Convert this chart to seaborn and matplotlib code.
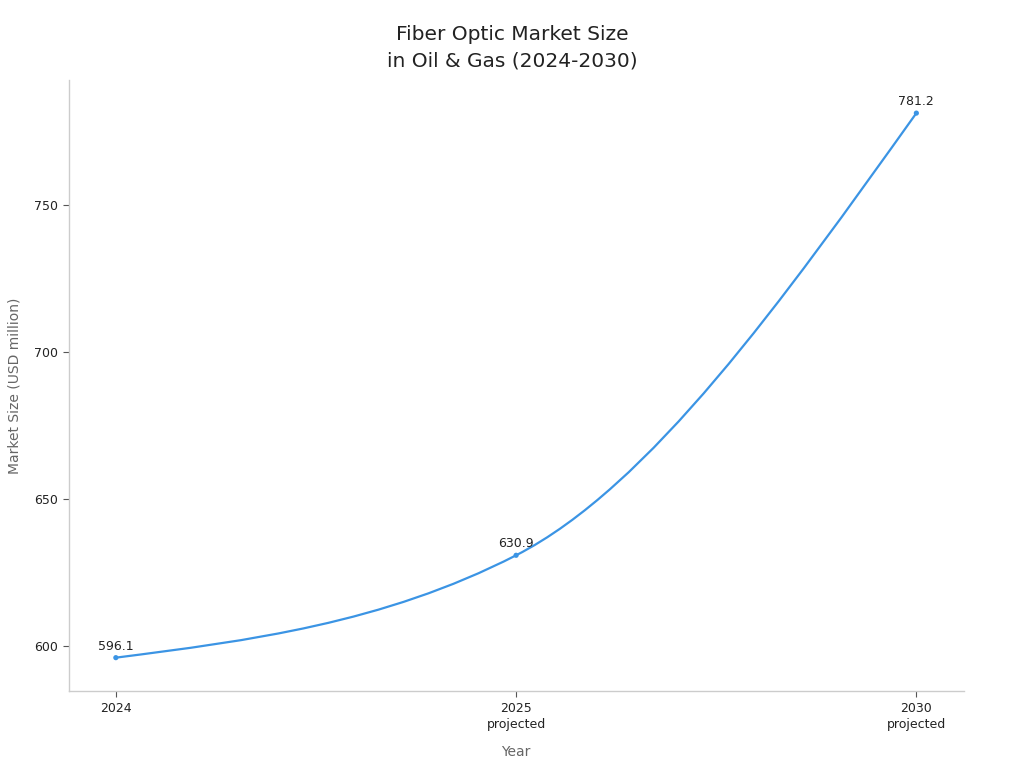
import numpy as np
import pandas as pd
import matplotlib
matplotlib.use("Agg")
import matplotlib.pyplot as plt
import seaborn as sns
from matplotlib.path import Path
from matplotlib.patches import PathPatch

# -----------------------------
# Data
# -----------------------------
years = ["2024", "2025", "2030"]
tick_labels = ["2024", "2025\nprojected", "2030\nprojected"]
market_size = [596.1, 630.9, 781.2]

df = pd.DataFrame({"year": years, "size": market_size})
df["pos"] = np.arange(len(df))

line_color = "#3b94e4"

sns.set_style("white")
plt.rcParams["font.family"] = ["DejaVu Sans"]

fig, ax = plt.subplots(figsize=(10.24, 7.68), dpi=100)
fig.subplots_adjust(left=0.067, right=0.941, top=0.896, bottom=0.1)

# markers
sns.scatterplot(data=df, x="pos", y="size", color=line_color, s=14,
                edgecolor="none", zorder=3, ax=ax)

# smooth monotone curve drawn as cubic bezier segments through the points
x = df["pos"].to_numpy(dtype=float)
y = df["size"].to_numpy(dtype=float)
h = np.diff(x)
s = np.diff(y) / h
t = np.zeros_like(y)
for i in range(1, len(y) - 1):
    p = (s[i - 1] * h[i] + s[i] * h[i - 1]) / (h[i - 1] + h[i])
    t[i] = (np.sign(s[i - 1]) + np.sign(s[i])) * min(abs(s[i - 1]), abs(s[i]), 0.5 * abs(p))
t[0] = (3 * s[0] - t[1]) / 2
t[-1] = (3 * s[-1] - t[-2]) / 2

verts = [(x[0], y[0])]
codes = [Path.MOVETO]
for i in range(len(x) - 1):
    d = h[i] / 3
    verts += [(x[i] + d, y[i] + t[i] * d),
              (x[i + 1] - d, y[i + 1] - t[i + 1] * d),
              (x[i + 1], y[i + 1])]
    codes += [Path.CURVE4] * 3
ax.add_patch(PathPatch(Path(verts, codes), facecolor="none",
                       edgecolor=line_color, linewidth=1.6, zorder=2))

# value labels
for xi, yi in zip(x, y):
    ax.annotate(f"{yi:.1f}", (xi, yi), xytext=(0, 3.5), textcoords="offset points",
                ha="center", va="bottom", fontsize=9, color="#222222")

ax.set_xlim(-0.118, 2.118)
ax.set_ylim(584.7, 792.5)
ax.set_xticks(x)
ax.set_xticklabels(tick_labels, fontsize=9, color="#222222", linespacing=1.3)
ax.set_yticks([600, 650, 700, 750])
ax.tick_params(axis="y", labelsize=9, labelcolor="#222222", length=4,
               width=0.8, color="#555555", left=True)
ax.tick_params(axis="x", length=4, width=0.8, color="#555555", bottom=True)

for side in ["top", "right"]:
    ax.spines[side].set_visible(False)
for side in ["left", "bottom"]:
    ax.spines[side].set_color("#cccccc")
    ax.spines[side].set_linewidth(1.0)

fig.suptitle("Fiber Optic Market Size\nin Oil & Gas (2024-2030)",
             x=0.5, y=0.968, fontsize=14.5, color="#222222", linespacing=1.5)
ax.set_xlabel("Year", fontsize=10, color="#666666", labelpad=10)
ax.set_ylabel("Market Size (USD million)", fontsize=10, color="#666666", labelpad=9)

plt.savefig("out.png", dpi=100)
plt.close()
